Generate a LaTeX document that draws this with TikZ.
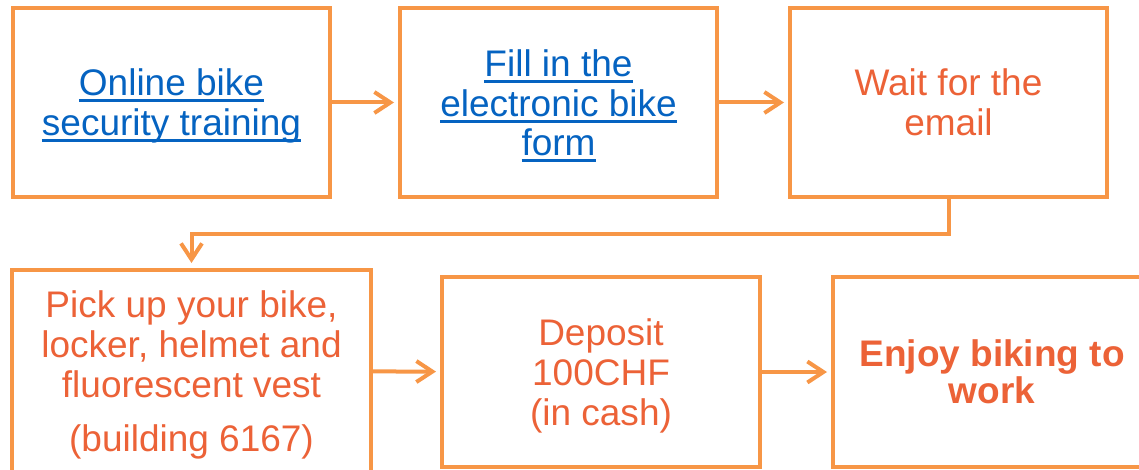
\documentclass[tikz,border=0pt]{standalone}
\usepackage{fontspec}
\setmainfont{Liberation Sans}
\usepackage{xcolor}
\usetikzlibrary{arrows.meta,positioning}

\definecolor{boxorange}{HTML}{F79646}
\definecolor{textorange}{HTML}{EC6237}
\definecolor{linkblue}{HTML}{0563C1}

% underlined link text, one line at a time
\newcommand{\linkline}[1]{\setbox0\hbox{#1}\rlap{\rule[-6pt]{\wd0}{2.5pt}}\box0}
% extra room above the first line
\newcommand{\toppad}{\rule{0pt}{34pt}}

\tikzset{
  stepbox/.style = {draw=boxorange, line width=3.5pt, fill=white, outer sep=0pt,
                    minimum width=317pt, minimum height=189pt, align=center,
                    text=textorange, font=\fontsize{37}{40}\selectfont},
  linkbox/.style = {stepbox, text=linkblue},
  flow/.style    = {draw=boxorange, line width=4pt,
                    -{Straight Barb[length=16pt, width=21pt]}, shorten >=6pt}
}

\begin{document}
\begin{tikzpicture}[x=1pt, y=-1pt]
  \useasboundingbox (0,0) rectangle (1139,470);

  % Top row
  \node(training)[linkbox] at (171.5,102.5)
       {\toppad\linkline{Online bike}\\\linkline{security training}};
  \node[right = 70pt of training] (form)[linkbox]
       {\toppad\linkline{Fill in the}\\\linkline{electronic bike}\\[-1pt]\linkline{form}};
  \node[right = 73pt of form] (email)[stepbox] {Wait for the\\email};

  % Bottom row
  \node(pickup)[stepbox, minimum width=359pt, minimum height=202pt] at (191.5,371)
       {\toppad Pick up your bike,\\locker, helmet and\\fluorescent vest\\[14pt](building 6167)};
  \node(deposit)[stepbox, minimum width=318pt, minimum height=190pt] at (601,372)
       {\toppad Deposit\\100CHF\\(in cash)};
  \node[right = 73pt of deposit] (enjoy)[stepbox, minimum width=318pt, minimum height=190pt,
       font=\fontsize{37}{37.5}\selectfont\bfseries] {Enjoy biking to\\work};

  % Arrows
  \draw[flow] (training) -- (form);
  \draw[flow] (form) -- (email);
  \draw[flow, shorten >=7pt] (email.south) -- ++(0,37) -| (pickup.north);
  \draw[flow] (pickup) -- (deposit);
  \draw[flow] (deposit) -- (enjoy);

\end{tikzpicture}
\end{document}
